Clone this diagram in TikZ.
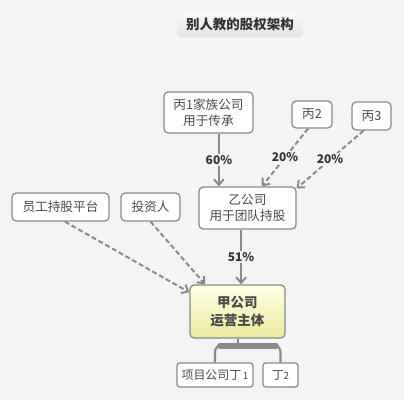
\documentclass[tikz,border=0pt]{standalone}
\usepackage{fontspec}
\setmainfont{Noto Sans CJK SC}
\usepackage{xcolor}
\usetikzlibrary{arrows.meta}
\definecolor{bgcol}{HTML}{F4F4F4}
\definecolor{edgecol}{HTML}{8A8A8A}
\definecolor{txtcol}{HTML}{4A4A4A}

\begin{document}
\begin{tikzpicture}[
        x=0.025cm, y=-0.025cm,
        box/.style = {draw=edgecol, fill=white, rounded corners=3pt, line width=0.9pt,
            align=center, inner sep=0pt, text=txtcol, font=\fontsize{9}{11}\selectfont},
        link/.style = {draw=edgecol, line width=1.4pt, -{Straight Barb[length=4pt,width=7pt]}},
        share/.style = {link, dashed, dash pattern=on 3.5pt off 2pt},
        pct/.style = {fill=bgcol, inner sep=1pt, text=black!80, font=\bfseries\fontsize{8.5}{9}\selectfont},
        bar/.style = {draw=edgecol, line width=1.5pt}
    ]
        \fill[bgcol] (0,0) rectangle (404,400);
        \node[rounded corners=3pt, top color=gray!5, bottom color=gray!22, minimum width=3.15cm,
            minimum height=0.625cm, inner sep=0pt, font=\bfseries\fontsize{9.6}{11}\selectfont, text=black!80]
            (title) at (240,24.5) {别人教的股权架构};
        \node[box, minimum width=2.225cm, minimum height=1.025cm] (bing1) at (208.5,112.5) {丙1家族公司\\用于传承};
        \node[box, minimum width=1.0cm, minimum height=0.675cm] (bing2) at (312,114.5) {丙2};
        \node[box, minimum width=0.975cm, minimum height=0.7cm] (bing3) at (371.5,116) {丙3};
        \node[box, minimum width=2.425cm, minimum height=1.05cm] (yi) at (247.5,208) {乙公司\\用于团队持股};
        \node[box, minimum width=2.425cm, minimum height=0.7cm] (staff) at (60.5,207) {员工持股平台};
        \node[box, minimum width=1.475cm, minimum height=0.7cm] (investor) at (150.5,207) {投资人};
        \node[box, top color=yellow!10, bottom color=yellow!45!olive!30!white, minimum width=2.375cm,
            minimum height=1.325cm, font=\bfseries\fontsize{9.6}{12.5}\selectfont] (jia) at (237.5,311.5) {甲公司\\运营主体};
        \node[box, minimum width=1.9cm, minimum height=0.6cm, rounded corners=2pt,
            font=\fontsize{8.5}{10}\selectfont] (ding1) at (215,375) {项目公司丁{\scriptsize\,1}};
        \node[box, minimum width=0.875cm, minimum height=0.6cm, rounded corners=2pt,
            font=\fontsize{8.5}{10}\selectfont] (ding2) at (280.5,375) {丁{\scriptsize 2}};

        % shareholders of yi
        \draw[link] ([xshift=0.26cm]bing1.south) -- node[pct] {60\%} ([xshift=0.26cm]bing1.south |- yi.north);
        \draw[share] ([xshift=-0.1cm]bing2.south) -- node[pct] {20\%} ([xshift=0.36cm]yi.north);
        \draw[share] ([xshift=-0.2cm]bing3.south) -- node[pct] {20\%} ([yshift=-0.05cm]yi.north east);

        % shareholders of jia
        \draw[link] ([xshift=-0.16cm]yi.south) -- node[pct] {51\%} ([xshift=-0.16cm]yi.south |- jia.north);
        \draw[share] ([xshift=0.11cm]staff.south) -- ([yshift=-0.2cm]jia.north west);
        \draw[share] (investor.south) -- ([xshift=-0.81cm]jia.north);

        % subsidiaries
        \coordinate (fork) at (238,345);
        \draw[draw=edgecol, line width=0.8pt] (jia.south -| fork) -- (fork);
        \draw[bar, rounded corners=5pt] (ding1.north) |- (fork) -| (ding2.north);
        \draw[draw=edgecol, line width=4pt, line cap=round] (220,346) -- (276,346);
    \end{tikzpicture}
\end{document}
